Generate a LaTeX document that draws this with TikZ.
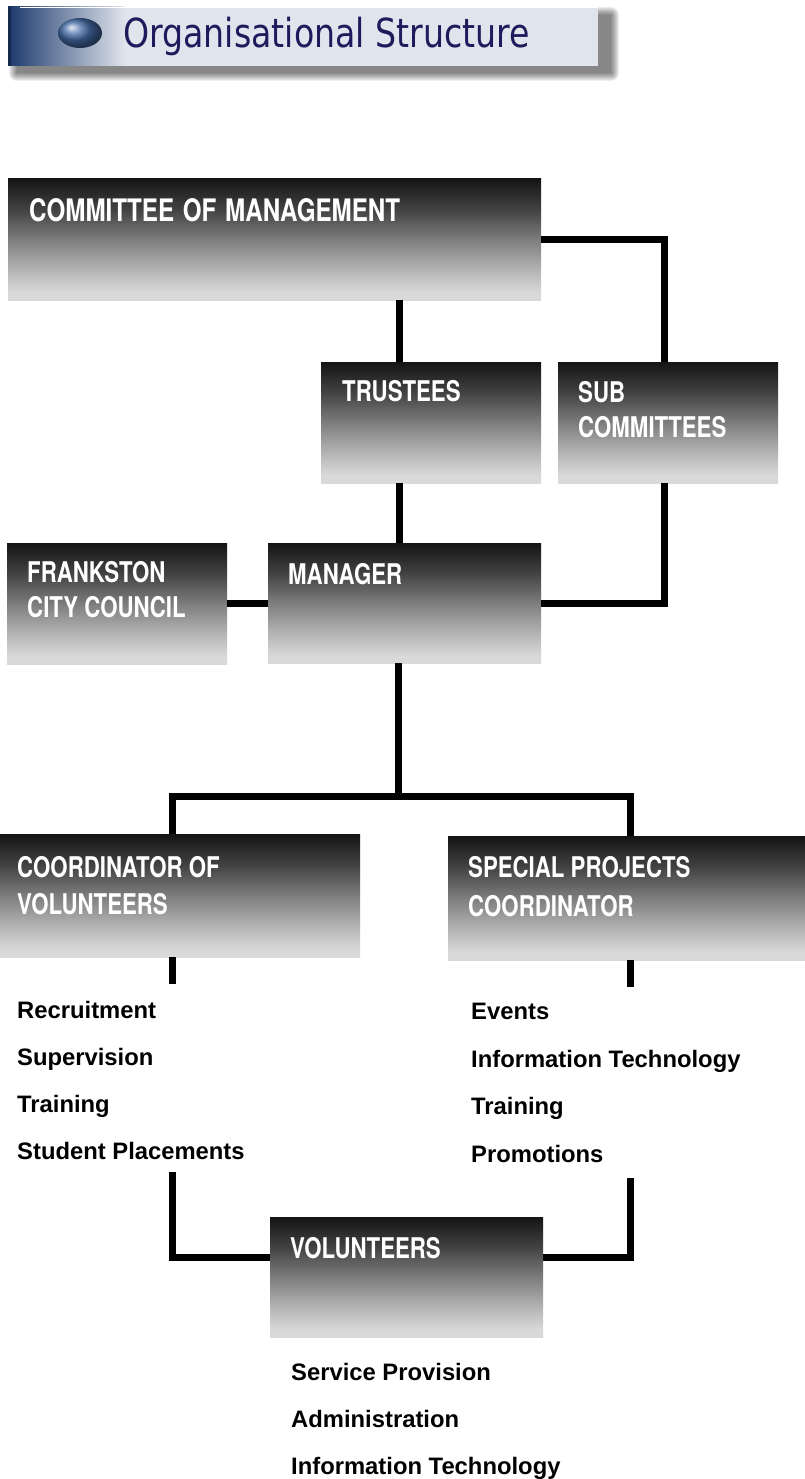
\documentclass[tikz,border=0pt]{standalone}
\usepackage{fontspec}
\setmainfont{Liberation Sans}
\newfontfamily\condfont[FakeStretch=0.78]{TeX Gyre Heros}
\newfontfamily\bannerfont[FakeStretch=0.83]{DejaVu Sans}
\definecolor{bdark}{RGB}{20,20,20}
\definecolor{bq1}{RGB}{66,66,66}
\definecolor{bmid}{RGB}{125,125,125}
\definecolor{bq3}{RGB}{180,180,180}
\definecolor{blight}{RGB}{217,217,217}
\definecolor{navy}{RGB}{28,58,108}
\definecolor{bannerlight}{RGB}{224,228,236}
\definecolor{bannertext}{RGB}{28,28,92}
\pgfdeclareverticalshading{boxshade}{100bp}{color(0bp)=(blight); color(28bp)=(blight); color(37.5bp)=(bq3); color(50bp)=(bmid); color(62.5bp)=(bq1); color(75bp)=(bdark); color(100bp)=(bdark)}
\tikzset{
  box/.style={shading=boxshade, draw=none, anchor=north west, inner sep=0pt, outer sep=0pt, rectangle},
  lbl/.style={anchor=base west, inner sep=0pt, text=white, font=\condfont\bfseries\fontsize{28.5}{30}\selectfont},
  biglbl/.style={lbl, font=\condfont\bfseries\fontsize{31}{34}\selectfont},
  item/.style={anchor=base west, inner sep=0pt, font=\bfseries\fontsize{23.8}{25}\selectfont},
  link/.style={line width=7pt, line cap=butt, line join=miter},
}
\begin{document}
\begin{tikzpicture}[x=1pt,y=-1pt]
\useasboundingbox (0,0) rectangle (805,1479);
\fill[white] (0,0) rectangle (805,1479);
% banner shadow
\foreach \i in {0,...,8}{
  \fill[black, opacity=0.065, rounded corners=\i pt] (17-\i,15-\i) rectangle (611+\i,73+\i);
}
% banner
\shade[left color=navy, right color=bannerlight] (8,7) rectangle (125,66);
\fill[bannerlight] (124.5,7) rectangle (598,66);
\fill[navy!70!black] (8,7) rectangle (11,66);
\draw[white, line width=1pt] (20,7.5) -- (598,7.5);
\shade[ball color={rgb,255:red,70;green,110;blue,170}] (80,33) ellipse [x radius=22pt, y radius=15pt];
\node[anchor=base west, inner sep=0pt, text=bannertext, font=\bannerfont\fontsize{40}{42}\selectfont] (title) at (123,48) {Organisational Structure};

% boxes
\node[box, minimum width=533pt, minimum height=121pt] (com) at (8,179) {};
\node[box, minimum width=220pt, minimum height=121pt] (tru) at (321,362) {};
\node[box, minimum width=220pt, minimum height=121pt] (sub) at (558,362) {};
\node[box, minimum width=220pt, minimum height=121pt] (fra) at (7,543) {};
\node[box, minimum width=273pt, minimum height=120pt] (man) at (268,543) {};
\node[box, minimum width=360pt, minimum height=123pt] (cov) at (0,834) {};
\node[box, minimum width=357pt, minimum height=124pt] (spc) at (448,836) {};
\node[box, minimum width=273pt, minimum height=120pt] (vol) at (270,1217) {};

% box labels
\node[biglbl] (comt) at (29,222) {COMMITTEE\hspace{2pt} OF\hspace{2pt} MANAGEMENT};
\node[lbl] (trut) at (342,401) {TRUSTEES};
\node[lbl] (subt1) at (578,402) {SUB};
\node[lbl] (subt2) at (578,437) {COMMITTEES};
\node[lbl] (frat1) at (27,582) {FRANKSTON};
\node[lbl] (frat2) at (27,617) {CITY COUNCIL};
\node[lbl] (mant) at (288,584) {MANAGER};
\node[lbl] (covt1) at (17,877) {COORDINATOR OF};
\node[lbl] (covt2) at (17,914) {VOLUNTEERS};
\node[lbl] (spct1) at (468,877) {SPECIAL PROJECTS};
\node[lbl] (spct2) at (468,916) {COORDINATOR};
\node[lbl] (volt) at (290,1258) {VOLUNTEERS};

% lists
\node[item] (l1) at (17,1018) {Recruitment};
\node[item] (l2) at (17,1065) {Supervision};
\node[item] (l3) at (17,1112) {Training};
\node[item] (l4) at (17,1159) {Student Placements};
\node[item] (r1) at (471,1019) {Events};
\node[item] (r2) at (471,1067) {Information Technology};
\node[item] (r3) at (471,1114) {Training};
\node[item] (r4) at (471,1162) {Promotions};
\node[item] (v1) at (291,1380) {Service Provision};
\node[item] (v2) at (291,1427) {Administration};
\node[item] (v3) at (291,1474) {Information Technology};

% connectors
\draw[link] ([xshift=78pt]tru.north west) -- ([xshift=78pt]tru.north west |- com.south);
\draw[link] (com.east) -| ([xshift=-4pt]sub.north);
\draw[link] ([xshift=78pt]tru.south west) -- ([xshift=78pt]tru.south west |- man.north);
\draw[link] ([xshift=-4pt]sub.south) |- (man.east);
\draw[link] (fra.east) -- (fra.east -| man.west);
\coordinate (hub) at (398,796);
\draw[link] ([xshift=-6.5pt]man.south) -- (hub);
\draw[link] ([xshift=-8pt]cov.north) |- (hub);
\draw[link] ([xshift=3.5pt]spc.north) |- (hub);
\coordinate (lstub) at (172,984);
\coordinate (rstub) at (630,987);
\draw[link] ([xshift=-8pt]cov.south) -- (lstub);
\draw[link] ([xshift=3.5pt]spc.south) -- (rstub);
\coordinate (lstub2) at (172,1172);
\coordinate (rstub2) at (630,1178);
\draw[link] (lstub2) |- ([yshift=20pt]vol.west);
\draw[link] (rstub2) |- ([yshift=20pt]vol.east);
\end{tikzpicture}
\end{document}
